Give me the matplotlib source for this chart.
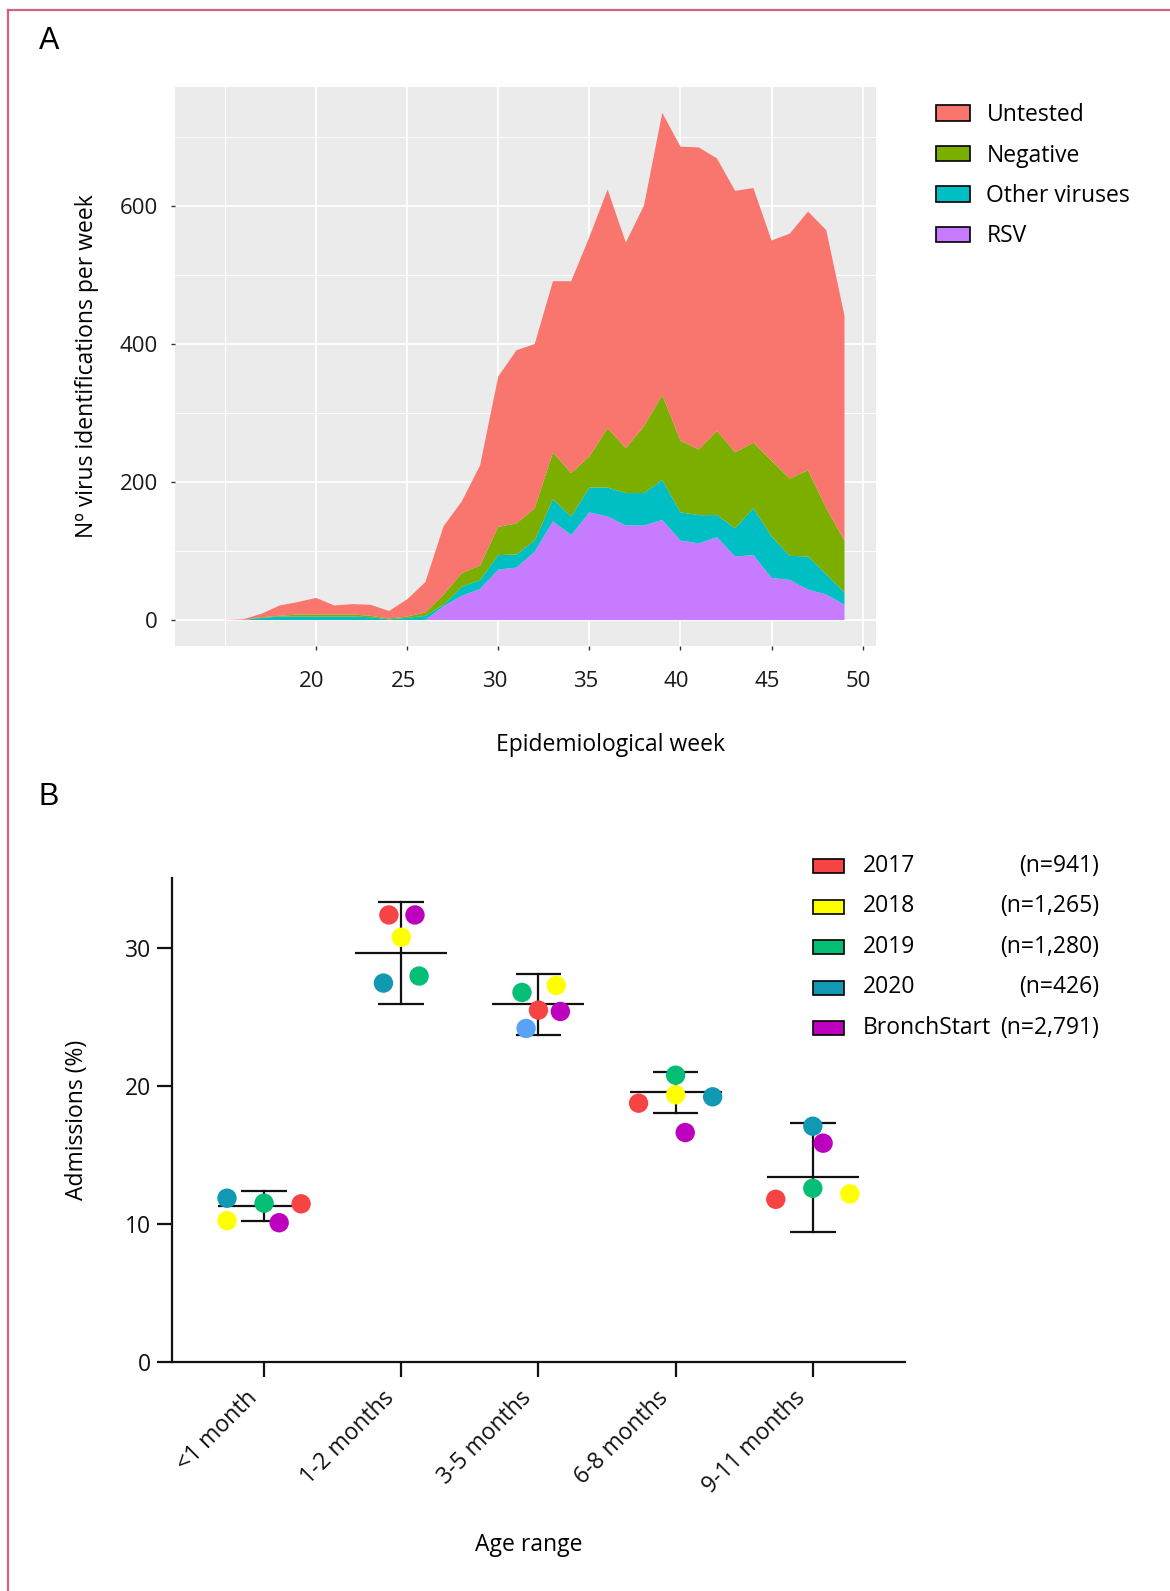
import numpy as np
import matplotlib
matplotlib.use('Agg')
import matplotlib.pyplot as plt
import matplotlib.transforms as mtransforms
from matplotlib.patches import Patch, Rectangle
from matplotlib.lines import Line2D

plt.rcParams['font.family'] = ['Open Sans', 'DejaVu Sans']

# ------------------------------------------------------------
# Data, panel A: weekly virus identifications (stacked counts)
# ------------------------------------------------------------
weeks = np.arange(15, 50)
rsv = [0, 0, 0, 0, 0, 0, 0, 0, 0, 0, 0, 0, 20, 35, 45, 73, 76, 99, 143, 123,
       156, 150, 137, 137, 145, 115, 111, 120, 92, 94, 61, 58, 44, 37, 22]
other_viruses = [0, 0, 3, 5, 5, 5, 5, 5, 4, 1, 3, 6, 2, 13, 13, 21, 19, 16, 32,
                 27, 36, 42, 47, 47, 58, 41, 41, 32, 41, 68, 60, 35, 48, 29, 18]
negative = [0, 0, 1, 1, 3, 3, 3, 3, 2, 1, 2, 5, 15, 20, 21, 41, 45, 47, 68, 63,
            45, 86, 65, 97, 123, 104, 95, 122, 110, 95, 110, 112, 125, 96, 75]
untested = [0, 1, 5, 15, 18, 24, 13, 15, 16, 11, 25, 44, 99, 104, 145, 218, 251,
            238, 248, 278, 318, 346, 298, 320, 409, 426, 438, 395, 379, 369, 319,
            355, 375, 403, 326]
stack_names = ['RSV', 'Other viruses', 'Negative', 'Untested']
stack_colors = ['#C77CFF', '#00BFC4', '#7CAE00', '#F8766D']

# ------------------------------------------------------------
# Data, panel B: admissions (%) by age range and season
# ------------------------------------------------------------
age_ranges = ['<1 month', '1-2 months', '3-5 months', '6-8 months', '9-11 months']
series_names = ['2017', '2018', '2019', '2020', 'BronchStart']
series_n = ['(n=941)', '(n=1,265)', '(n=1,280)', '(n=426)', '(n=2,791)']
adm_2017 = [11.47, 32.42, 25.52, 18.77, 11.80]
adm_2018 = [10.25, 30.80, 27.31, 19.38, 12.19]
adm_2019 = [11.52, 27.99, 26.80, 20.80, 12.60]
adm_2020 = [11.88, 27.48, 24.19, 19.23, 17.10]
adm_bronch = [10.10, 32.42, 25.42, 16.64, 15.87]
# horizontal scatter of each point around its category
jit_2017 = [0.27, -0.09, 0.0, -0.27, -0.27]
jit_2018 = [-0.27, 0.0, 0.13, 0.0, 0.27]
jit_2019 = [0.0, 0.13, -0.12, 0.0, 0.0]
jit_2020 = [-0.27, -0.13, -0.09, 0.27, 0.0]
jit_bronch = [0.11, 0.10, 0.16, 0.07, 0.075]
adm_mean = [11.34, 29.66, 25.93, 19.57, 13.40]
adm_low = [10.25, 25.98, 23.73, 18.09, 9.46]
adm_high = [12.43, 33.36, 28.16, 21.02, 17.34]

series_vals = [adm_2017, adm_2018, adm_2019, adm_2020, adm_bronch]
series_jit = [jit_2017, jit_2018, jit_2019, jit_2020, jit_bronch]
series_colors = ['#F64444', '#FFFF00', '#05BE76', '#1199B4', '#BC00BE']
point_colors = [[c] * 5 for c in series_colors]
point_colors[3][2] = '#5AA2F8'   # this one point is drawn in a lighter blue

W, H = 1170, 1591
fig = plt.figure(figsize=(W / 100, H / 100), dpi=100)

def px_box(l, t, r, b):
    return [l / W, 1 - b / H, (r - l) / W, (b - t) / H]

def shift_labels(labels, dx_px, dy_px=0):
    off = mtransforms.ScaledTranslation(dx_px / 100, dy_px / 100, fig.dpi_scale_trans)
    for lab in labels:
        lab.set_transform(lab.get_transform() + off)

# ---- outer frame ----
fig.add_artist(Line2D([8 / W, 8 / W], [0, 1 - 10 / H], color='#D2627E', lw=1.6))
fig.add_artist(Line2D([8 / W, 1], [1 - 10 / H, 1 - 10 / H], color='#D2627E', lw=1.6))

# ------------------------------------------------------------
# Panel A
# ------------------------------------------------------------
ax_a = fig.add_axes(px_box(174.5, 87, 876, 646))
ax_a.set_facecolor('#EBEBEB')
ax_a.stackplot(weeks, rsv, other_viruses, negative, untested,
               colors=stack_colors, lw=0, zorder=2)
ax_a.set_xlim(12.23, 50.73)
ax_a.set_ylim(-37.7, 772.5)
ax_a.set_xticks([20, 25, 30, 35, 40, 45, 50])
ax_a.set_xticks([15, 20, 25, 30, 35, 40, 45, 50], minor=True)
ax_a.set_yticks([0, 200, 400, 600])
ax_a.set_yticks([100, 300, 500, 700], minor=True)
ax_a.grid(True, which='major', color='white', lw=1.3, zorder=1)
ax_a.grid(True, which='minor', color='white', lw=0.7, zorder=1)
ax_a.set_axisbelow(True)
for s in ax_a.spines.values():
    s.set_visible(False)
ax_a.tick_params(which='major', length=3, width=1, color='#333333',
                 labelsize=16, labelcolor='#1A1A1A')
ax_a.tick_params(axis='y', pad=9)
ax_a.tick_params(axis='x', pad=15)
ax_a.tick_params(which='minor', length=0)
shift_labels(ax_a.get_xticklabels(), -4)
ax_a.set_xlabel('Epidemiological week', fontsize=16.5)
ax_a.xaxis.set_label_coords(0.622, -0.155)
ax_a.set_ylabel('Nº virus identifications per week', fontsize=16.5, labelpad=15)

handles = [Patch(facecolor=c, edgecolor='black', lw=1.2) for c in stack_colors]
ax_a.legend(handles[::-1], stack_names[::-1], loc='upper left',
            bbox_to_anchor=(936 / W, 1 - 103 / H), bbox_transform=fig.transFigure,
            frameon=False, fontsize=16.5, handlelength=1.5, handleheight=0.65,
            handletextpad=0.7, labelspacing=0.72, borderaxespad=0, borderpad=0)

fig.text(49 / W, 1 - 41 / H, 'A', fontsize=22, family='Liberation Sans',
         ha='center', va='center')

# ------------------------------------------------------------
# Panel B
# ------------------------------------------------------------
ax_b = fig.add_axes(px_box(172, 878, 905, 1362))
xpos = np.arange(len(age_ranges))
for i in range(len(age_ranges)):
    ax_b.plot([xpos[i] - 0.335, xpos[i] + 0.335], [adm_mean[i]] * 2,
              color='#111111', lw=1.6, zorder=2, solid_capstyle='butt')
    ax_b.plot([xpos[i]] * 2, [adm_low[i], adm_high[i]],
              color='#111111', lw=1.6, zorder=2)
    for y in (adm_low[i], adm_high[i]):
        ax_b.plot([xpos[i] - 0.166, xpos[i] + 0.166], [y, y],
                  color='#111111', lw=1.6, zorder=2, solid_capstyle='butt')

for vals, jit, cols in zip(series_vals, series_jit, point_colors):
    ax_b.scatter(xpos + np.array(jit), vals, s=195, c=cols, lw=0, zorder=3)

ax_b.set_xlim(-0.671, 4.672)
ax_b.set_ylim(0, 35.1)
ax_b.set_yticks([0, 10, 20, 30])
ax_b.set_xticks(xpos)
ax_b.set_xticklabels(age_ranges, rotation=45, ha='right', rotation_mode='anchor')
for s in ['top', 'right']:
    ax_b.spines[s].set_visible(False)
for s in ['left', 'bottom']:
    ax_b.spines[s].set_linewidth(1.6)
    ax_b.spines[s].set_color('#111111')
ax_b.tick_params(length=11, width=1.6, color='#111111', labelsize=16.5,
                 labelcolor='#111111')
ax_b.tick_params(axis='x', pad=6.5)
ax_b.tick_params(axis='y', pad=4)
shift_labels(ax_b.get_xticklabels(), -19)
ax_b.set_xlabel('Age range', fontsize=16.5)
ax_b.xaxis.set_label_coords(0.487, -0.353)
ax_b.set_ylabel('Admissions (%)', fontsize=16.5, labelpad=26)

# legend with right-aligned sample sizes
for k, (name, n, col) in enumerate(zip(series_names, series_n, series_colors)):
    yc = 866 + k * 40.5
    fig.add_artist(Rectangle((813 / W, 1 - (yc + 7) / H), 31 / W, 14 / H,
                             facecolor=col, edgecolor='black', lw=1.2,
                             transform=fig.transFigure))
    fig.text(863 / W, 1 - yc / H, name, fontsize=16.5, ha='left', va='center')
    fig.text(1099 / W, 1 - yc / H, n, fontsize=16.5, ha='right', va='center')

fig.text(49 / W, 1 - 797 / H, 'B', fontsize=22, family='Liberation Sans',
         ha='center', va='center')

fig.savefig('out.png', dpi=100)
